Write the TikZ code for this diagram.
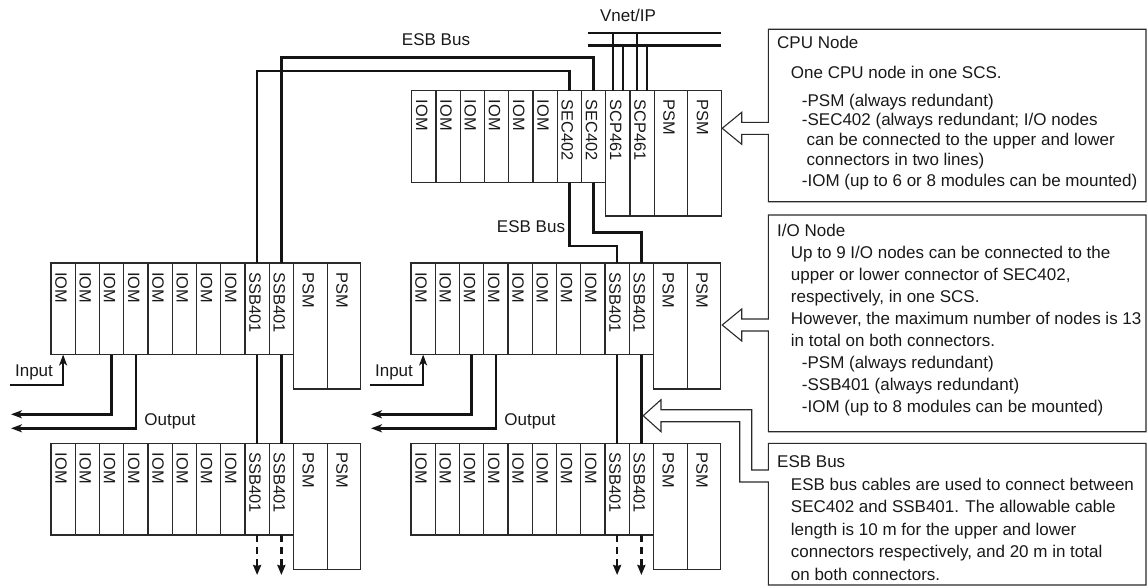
\documentclass[tikz,border=0pt]{standalone}
\usepackage{fontspec}
\setmainfont{Liberation Sans}
\usetikzlibrary{arrows.meta,calc}
\definecolor{ln}{HTML}{2A2A2A}
\newcommand\mymodule[6]{%
  \node[mod, anchor=north west, minimum width=#4pt, minimum height=#5pt] (#1) at ({#2},{#3}) {};
  \node[modlbl] (#1-t) at ($(#1.north)+(-2,9)$) {#6};}
\newcommand\myiorack[3]{%
  \foreach \lbl [count=\i] in {IOM,IOM,IOM,IOM,IOM,IOM,IOM,IOM,SSB401,SSB401}{%
    \mymodule{#1\i}{#2+\i*24.25-24.25}{#3}{24.25}{91.5}{\lbl}}
  \mymodule{#1p1}{#2+242.5}{#3}{33.6}{126}{PSM}
  \mymodule{#1p2}{#2+276.1}{#3}{33.6}{126}{PSM}}
\tikzset{
  mod/.style={draw=ln, line width=1.1pt, inner sep=0pt, outer sep=0pt},
  modlbl/.style={rotate=-90, anchor=west, inner sep=0pt, text=black!90, font=\fontsize{16.4}{16.4}\selectfont},
  bus/.style={draw=black!92, line width=2.6pt},
  vnet/.style={draw=black!92, line width=2.4pt},
  io/.style={draw=black!92, line width=2.4pt, -{Stealth[length=11pt,width=8pt,inset=3pt]}},
  down/.style={draw=black!92, line width=2.4pt, dash pattern=on 7pt off 5pt, -{Stealth[length=10pt,width=8pt,inset=1pt]}},
  boxline/.style={draw=ln, line width=1.1pt, line join=miter},
  txt/.style={anchor=base west, inner sep=0pt, text=black!90, font=\fontsize{17}{17}\selectfont},
  lbl/.style={inner sep=0pt, text=black!90, font=\fontsize{17}{17}\selectfont}
}
\begin{document}
\begin{tikzpicture}[x=1pt,y=-1pt]
\useasboundingbox (0,0) rectangle (1147,586);
% racks
\foreach \lbl [count=\i] in {IOM,IOM,IOM,IOM,IOM,IOM,SEC402,SEC402}{%
  \mymodule{C\i}{411.7+\i*24.25-24.25}{90.7}{24.25}{92}{\lbl}}
\mymodule{C9}{605.7}{90.7}{24.25}{125.3}{SCP461}
\mymodule{C10}{629.95}{90.7}{24.25}{125.3}{SCP461}
\mymodule{Cp1}{654.2}{90.7}{33.6}{125.3}{PSM}
\mymodule{Cp2}{687.8}{90.7}{33.6}{125.3}{PSM}
\myiorack{LU}{51}{263}
\myiorack{LL}{51}{443.5}
\myiorack{RU}{411}{263}
\myiorack{RL}{411}{443.5}
% Vnet/IP
\coordinate (vnA1) at (587.7,33.3);
\coordinate (vnA2) at (720.7,33.3);
\coordinate (vnB1) at (587.7,45.7);
\coordinate (vnB2) at (720.7,45.7);
\draw[vnet] (vnA1) -- (vnA2);
\draw[vnet] (vnB1) -- (vnB2);
\draw[vnet] ([xshift=-5pt]C9.north) -- ([xshift=-5pt]C9.north |- vnA1);
\draw[vnet] ([xshift=5pt]C9.north) -- ([xshift=5pt]C9.north |- vnB1);
\draw[vnet] ([xshift=-5pt]C10.north) -- ([xshift=-5pt]C10.north |- vnA1);
\draw[vnet] ([xshift=5pt]C10.north) -- ([xshift=5pt]C10.north |- vnB1);
\node[lbl] (vnetlbl) at (628,15) {Vnet/IP};
% ESB bus lines
\draw[bus] (C7.north) -- ++(0,-19.7) -| (LU9.north);
\draw[bus] (C8.north) -- ++(0,-33.4) -| (LU10.north);
\draw[bus] (C7.south) -- ++(0,63.3) -| (RU9.north);
\draw[bus] (C8.south) -- ++(0,50) -| (RU10.north);
\draw[bus] (LU9.south) -- (LL9.north);
\draw[bus] (LU10.south) -- (LL10.north);
\draw[bus] (RU9.south) -- (RL9.north);
\draw[bus] (RU10.south) -- (RL10.north);
\draw[down] (LL9.south) -- ++(0,40);
\draw[down] (LL10.south) -- ++(0,40);
\draw[down] (RL9.south) -- ++(0,40);
\draw[down] (RL10.south) -- ++(0,40);
\node[lbl] (esb1) at (436,40) {ESB Bus};
\node[lbl] (esb2) at (531,227) {ESB Bus};
% Input / Output
\coordinate (inL) at (10,385);
\coordinate (outL1) at (11,414.3);
\coordinate (outL2) at (11,428.3);
\draw[io] (inL) -| (LU1.south);
\draw[io] (LU3.south) |- (outL1);
\draw[io] (LU4.south) |- (outL2);
\node[lbl] (inLl) at (34,372) {Input};
\node[lbl] (outLl) at (170,421) {Output};
\coordinate (inR) at (370,385);
\coordinate (outR1) at (371,414.3);
\coordinate (outR2) at (371,428.3);
\draw[io] (inR) -| (RU1.south);
\draw[io] (RU3.south) |- (outR1);
\draw[io] (RU4.south) |- (outR2);
\node[lbl] (inRl) at (394,372) {Input};
\node[lbl] (outRl) at (530,421) {Output};
% CPU box with hollow arrow
\draw[boxline] (768.3,122.3) -- (741.7,122.3) -- (741.7,112.3) -- (722.2,128.3) -- (741.7,144.3) -- (741.7,134.3) -- (768.3,134.3) -- (768.3,201.7) -- (1146,201.7) -- (1146,29.3) -- (768.3,29.3) -- cycle;
% I/O box with hollow arrow
\draw[boxline] (768.3,319) -- (741.7,319) -- (741.7,309) -- (722.2,325) -- (741.7,341) -- (741.7,331) -- (768.3,331) -- (768.3,431.7) -- (1146,431.7) -- (1146,215) -- (768.3,215) -- cycle;
% ESB box with bent hollow arrow
\draw[boxline] (768.3,470) -- (751.7,470) -- (751.7,409.7) -- (661,409.7) -- (661,399.7) -- (643.2,415.7) -- (661,431.7) -- (661,421.7) -- (739.7,421.7) -- (739.7,482) -- (768.3,482) -- (768.3,585) -- (1146,585) -- (1146,443.3) -- (768.3,443.3) -- cycle;
% texts
\node[txt] (c1) at (777,48.5) {CPU Node};
\node[txt] (c2) at (790.7,78.5) {One CPU node in one SCS.};
\node[txt] (c3) at (801.7,106) {-PSM (always redundant)};
\node[txt] (c4) at (801.7,125) {-SEC402 (always redundant; I/O nodes};
\node[txt] (c5) at (806.5,145.5) {can be connected to the upper and lower};
\node[txt] (c6) at (806.5,165.5) {connectors in two lines)};
\node[txt] (c7) at (801.7,186) {-IOM (up to 6 or 8 modules can be mounted)};
\node[txt] (i1) at (777,236) {I/O Node};
\node[txt] (i2) at (790.7,258.5) {Up to 9 I/O nodes can be connected to the};
\node[txt] (i3) at (790.7,280.5) {upper or lower connector of SEC402,};
\node[txt] (i4) at (790.7,302) {respectively, in one SCS.};
\node[txt] (i5) at (790.7,324) {However, the maximum number of nodes is 13};
\node[txt] (i6) at (790.7,346) {in total on both connectors.};
\node[txt] (i7) at (801.7,368) {-PSM (always redundant)};
\node[txt] (i8) at (801.7,390) {-SSB401 (always redundant)};
\node[txt] (i9) at (801.7,412) {-IOM (up to 8 modules can be mounted)};
\node[txt] (e1) at (777,467) {ESB Bus};
\node[txt] (e2) at (790.7,490) {ESB bus cables are used to connect between};
\node[txt] (e3) at (790.7,512.5) {SEC402 and SSB401. The allowable cable};
\node[txt] (e4) at (790.7,535) {length is 10 m for the upper and lower};
\node[txt] (e5) at (790.7,557.5) {connectors respectively, and 20 m in total};
\node[txt] (e6) at (790.7,580) {on both connectors.};
\end{tikzpicture}
\end{document}
